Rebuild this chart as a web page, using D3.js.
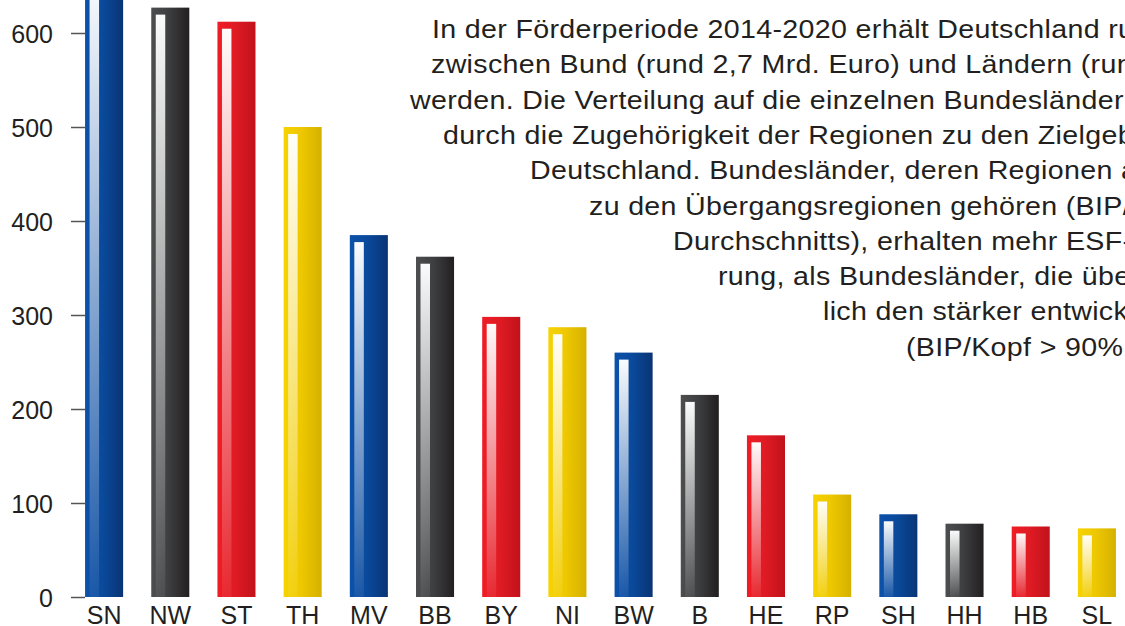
<!DOCTYPE html>
<html>
<head>
<meta charset="utf-8">
<script src="https://cdn.jsdelivr.net/npm/d3@7"></script>
<style>
  html, body { margin: 0; padding: 0; background: #fff; overflow: hidden; }
  svg { display: block; font-family: "Liberation Sans", Arial, sans-serif; }
</style>
</head>
<body>
<svg id="chart" width="1125" height="626"></svg>
<script>
const categories = ["SN","NW","ST","TH","MV","BB","BY","NI","BW","B","HE","RP","SH","HH","HB","SL"];
const values = [662, 627, 612, 500, 385, 362, 298, 287, 260, 215, 172, 109, 88, 78, 75, 73];
const colorKeys = ["blue","dark","red","yellow","blue","dark","red","yellow","blue","dark","red","yellow","blue","dark","red","yellow"];
const yTicks = [0, 100, 200, 300, 400, 500, 600];
const paragraph = [
  "In der Förderperiode 2014-2020 erhält Deutschland rund",
  "zwischen Bund (rund 2,7 Mrd. Euro) und Ländern (rund",
  "werden. Die Verteilung auf die einzelnen Bundesländer",
  "durch die Zugehörigkeit der Regionen zu den Zielgebieten",
  "Deutschland. Bundesländer, deren Regionen auch",
  "zu den Übergangsregionen gehören (BIP/Kopf",
  "Durchschnitts), erhalten mehr ESF-Förde-",
  "rung, als Bundesländer, die über-",
  "lich den stärker entwickelten",
  "(BIP/Kopf > 90% des"
];
const paragraphX = [432, 431, 410, 443, 530, 589, 673, 718, 823, 906];

const palette = {
  blue:   ["#0c51aa", "#0a4a9c", "#093474"],
  dark:   ["#4d4e50", "#3e3f41", "#231f20"],
  red:    ["#ef1c25", "#e01b24", "#c1121b"],
  yellow: ["#f6d300", "#eec800", "#d5b100"]
};

const svg = d3.select("#chart");
const defs = svg.append("defs");

Object.entries(palette).forEach(([k, c]) => {
  const g = defs.append("linearGradient").attr("id", "g-" + k)
    .attr("x1", 0).attr("y1", 0).attr("x2", 1).attr("y2", 0);
  g.append("stop").attr("offset", "0%").attr("stop-color", c[0]);
  g.append("stop").attr("offset", "45%").attr("stop-color", c[1]);
  g.append("stop").attr("offset", "100%").attr("stop-color", c[2]);
});
const hg = defs.append("linearGradient").attr("id", "g-hl")
  .attr("x1", 0).attr("y1", 0).attr("x2", 0).attr("y2", 1);
hg.append("stop").attr("offset", "0%").attr("stop-color", "#fff").attr("stop-opacity", 0.98);
hg.append("stop").attr("offset", "100%").attr("stop-color", "#fff").attr("stop-opacity", 0.06);

const x = d3.scaleBand().domain(categories).range([71, 1130])
  .paddingInner(0.425).paddingOuter(0.2125);
const y = d3.scaleLinear().domain([0, 600]).range([597, 33]);

// paragraph text (slightly widened glyphs, as in the reference)
const para = svg.append("g").attr("fill", "#231f20")
  .style("font-size", "26px").style("letter-spacing", "0.3px");
paragraph.forEach((line, i) => {
  para.append("text")
    .attr("transform", `translate(${paragraphX[i]},${38 + i * 35.3}) scale(1.1,1)`)
    .text(line);
});

// y axis
const yAxis = svg.append("g").attr("transform", "translate(85,0)")
  .call(d3.axisLeft(y).tickValues(yTicks).tickSize(14).tickPadding(18));
yAxis.select(".domain").remove();
yAxis.selectAll(".tick line").attr("stroke", "#555").attr("stroke-width", 1.5);
yAxis.selectAll(".tick text").attr("fill", "#231f20").style("font-size", "25px")
  .style("font-family", "\"Liberation Sans\", Arial, sans-serif").attr("dy", "0.36em");

// bars
const bars = svg.append("g").selectAll("g").data(categories).join("g");
bars.append("rect")
  .attr("x", d => x(d))
  .attr("y", (d, i) => y(values[i]))
  .attr("width", x.bandwidth())
  .attr("height", (d, i) => y(0) - y(values[i]))
  .attr("fill", (d, i) => "url(#g-" + colorKeys[i] + ")");
bars.append("rect")
  .attr("x", d => x(d) + 4.5)
  .attr("y", (d, i) => y(values[i]) + 7)
  .attr("width", 9.5)
  .attr("height", (d, i) => y(0) - y(values[i]) - 7)
  .attr("fill", "url(#g-hl)");

// x labels
const xAxis = svg.append("g").attr("transform", "translate(0,597)")
  .call(d3.axisBottom(x).tickSize(0).tickPadding(0));
xAxis.select(".domain").remove();
xAxis.selectAll(".tick text").attr("fill", "#231f20").attr("dy", 0).attr("y", 27)
  .style("font-size", "25px")
  .style("font-family", "\"Liberation Sans\", Arial, sans-serif");
</script>
</body>
</html>
